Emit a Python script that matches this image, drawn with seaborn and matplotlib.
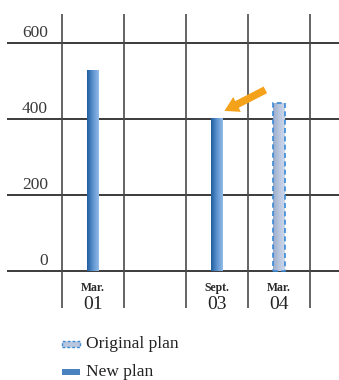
import numpy as np
import pandas as pd
import matplotlib
matplotlib.use("Agg")
import matplotlib.pyplot as plt
import seaborn as sns
from matplotlib.patches import Rectangle

# Data
months = ["Mar.", "", "Sept.", "Mar."]
years = ["01", "", "03", "04"]
new_plan = [530, np.nan, 402, np.nan]
original_plan = [np.nan, np.nan, np.nan, 442]
y_ticks = [0, 200, 400, 600]
legend_labels = ["Original plan", "New plan"]

sns.set_theme(style="white")
plt.rcParams["font.family"] = ["Liberation Serif", "DejaVu Serif"]

positions = list(range(len(months)))
df = pd.DataFrame({
    "pos": positions * 2,
    "value": new_plan + original_plan,
    "plan": ["New plan"] * len(positions) + ["Original plan"] * len(positions),
})

W, H = 339, 380
fig = plt.figure(figsize=(W / 100, H / 100), dpi=100)
ax = fig.add_axes([0, 0, 1, 1])

# pixel -> data mapping: category cells are 62 px wide, 200 units = 76 px
cell = 62.0
x0_px = 93.0           # centre of first category
y0_px = 271.0          # baseline
ppu = 76.0 / 200.0     # pixels per unit

sns.barplot(data=df, x="pos", y="value", hue="plan", dodge=False,
            order=positions, native_scale=True, width=12 / cell,
            palette={"New plan": "#4a82c0", "Original plan": "#b0c0da"},
            legend=False, ax=ax, zorder=3, errorbar=None)
ax.set_xlim((0 - x0_px) / cell, (W - x0_px) / cell)
ax.set_ylim(-(H - y0_px) / ppu, y0_px / ppu)
ax.axis("off")

# gradient fills clipped to each bar
grad_new = matplotlib.colors.LinearSegmentedColormap.from_list("n", ["#1f5e9e", "#5d93cf", "#93bbe6"])
grad_orig = matplotlib.colors.LinearSegmentedColormap.from_list("o", ["#9aaccb", "#b8c6de", "#cdd8ea"])
g = np.linspace(0, 1, 64).reshape(1, -1)
for p in list(ax.patches):
    h = p.get_height()
    if not np.isfinite(h) or h == 0:
        continue
    x, w = p.get_x(), p.get_width()
    is_orig = abs(h - original_plan[3]) < 1e-6
    cmap = grad_orig if is_orig else grad_new
    im = ax.imshow(g, cmap=cmap, aspect="auto", extent=(x, x + w, 0, h), zorder=3)
    im.set_clip_path(p)
    p.set_facecolor("none")
    if is_orig:
        p.set_edgecolor("#3a8ad6")
        p.set_linestyle((0, (3, 2)))
        p.set_linewidth(1.2)
        p.set_zorder(4)
    else:
        p.set_edgecolor("none")
ax.set_xlim((0 - x0_px) / cell, (W - x0_px) / cell)
ax.set_ylim(-(H - y0_px) / ppu, y0_px / ppu)

# grid
xl = ax.get_xlim()
left = (7 - x0_px) / cell
top = (y0_px - 14) / ppu
bottom = -(308 - y0_px) / ppu
for t in y_ticks:
    ax.plot([left, xl[1]], [t, t], color="#1a1a1a", lw=1.2, zorder=2, solid_capstyle="butt")
    ax.text((48 - x0_px) / cell, t + 6 / ppu, str(t), ha="right", va="baseline",
            fontsize=12.5, color="#3a3a3a")
for k in range(len(months) + 1):
    xv = k - 0.5
    ax.plot([xv, xv], [bottom, top], color="#4a4a4a", lw=1.2, zorder=2, solid_capstyle="butt")

# category labels
for pos, m, yr in zip(positions, months, years):
    if m:
        ax.text(pos, -(291 - y0_px) / ppu, m, ha="center", va="baseline",
                fontsize=8.5, fontweight="bold", color="#2a2a2a")
        ax.text(pos, -(309 - y0_px) / ppu, yr, ha="center", va="baseline",
                fontsize=14, color="#222222")

# arrow pointing at the Sept. 03 bar
target = new_plan[2]
ax.annotate("", xy=(2 + 0.08, target + 16), xytext=(2 + 0.82, target + 78),
            arrowprops=dict(arrowstyle="simple,head_length=0.85,head_width=1.0,tail_width=0.45",
                            color="#f5a21b", lw=0), zorder=5)

# legend
leg_x = (62 - x0_px) / cell
for i, (lab, face, edge, ls) in enumerate([
        (legend_labels[0], "#b8c6de", "#3a8ad6", (0, (2, 1.5))),
        (legend_labels[1], "#4a82c0", "none", "solid")]):
    py = 344 + i * 28
    yv = -(py - y0_px) / ppu
    ax.add_patch(Rectangle((leg_x, yv - 3 / ppu), 18 / cell, 6 / ppu,
                           facecolor=face, edgecolor=edge, linestyle=ls, lw=1.0,
                           zorder=4))
    ax.text((86 - x0_px) / cell, yv, lab, ha="left", va="center",
            fontsize=12.5, color="#222222")

fig.savefig("out.png", dpi=100)
